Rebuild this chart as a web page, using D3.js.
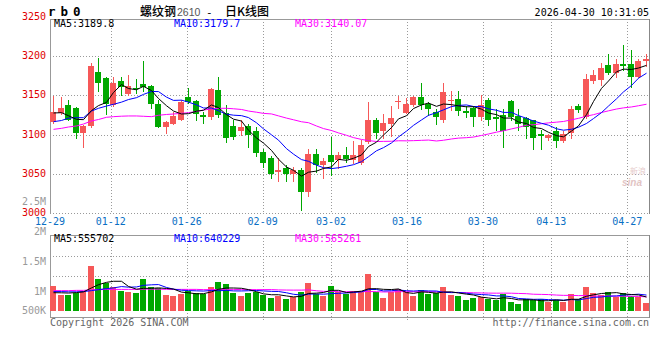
<!DOCTYPE html>
<html><head><meta charset="utf-8">
<script src="https://cdn.jsdelivr.net/npm/d3@7"></script>
<style>html,body{margin:0;padding:0;background:#fff;} svg{display:block;font-family:"DejaVu Sans Mono",monospace;}</style>
</head><body><svg id="c" width="660" height="360"></svg>
<script>
// ---------- data ----------
const dates = ["12-29","12-30","12-31","01-05","01-06","01-07","01-08","01-09","01-12","01-13",
"01-14","01-15","01-16","01-19","01-20","01-21","01-22","01-23","01-26","01-27",
"01-28","01-29","01-30","02-02","02-03","02-04","02-05","02-06","02-09","02-10",
"02-11","02-12","02-13","02-24","02-25","02-26","02-27","03-02","03-03","03-04",
"03-05","03-06","03-09","03-10","03-11","03-12","03-13","03-16","03-17","03-18",
"03-19","03-20","03-23","03-24","03-25","03-26","03-27","03-30","03-31","04-01",
"04-02","04-03","04-07","04-08","04-09","04-10","04-13","04-14","04-15","04-16",
"04-17","04-20","04-21","04-22","04-23","04-24","04-27","04-28","04-29","04-30"];
const open  = [3116,3128,3138,3134,3102,3111,3180,3172,3138,3168, 3152,3160,3165,3162,3139,3109,3114,3119,3148,3143,
 3125,3122,3157,3127,3111,3104,3111,3105,3078,3070, 3052,3057,3049,3055,3027,3075,3061,3074,3067,3074,
 3068,3064,3091,3119,3105,3114,3141,3128,3138,3148, 3139,3129,3119,3143,3146,3130,3134,3123,3144,3122,
 3125,3143,3124,3121,3118,3101,3095,3105,3092,3102, 3136,3123,3169,3170,3189,3179,3190,3190,3174,3194];
const high  = [3149,3148,3144,3135,3112,3192,3198,3173,3174,3173, 3176,3171,3194,3163,3144,3117,3129,3144,3160,3144,
 3129,3160,3174,3138,3118,3118,3113,3110,3082,3073, 3070,3061,3058,3057,3082,3082,3070,3097,3078,3084,
 3092,3093,3142,3121,3126,3136,3149,3147,3149,3166, 3142,3132,3166,3155,3155,3136,3136,3151,3147,3132,
 3132,3144,3132,3123,3119,3106,3101,3110,3104,3136, 3139,3178,3183,3191,3203,3196,3215,3208,3197,3203];
const low   = [3115,3126,3118,3095,3084,3109,3155,3126,3136,3151, 3151,3153,3155,3134,3109,3102,3113,3118,3140,3119,
 3115,3120,3123,3091,3094,3099,3084,3072,3059,3045, 3041,3040,3040,3003,3021,3052,3045,3048,3057,3065,
 3063,3062,3089,3095,3095,3098,3134,3127,3136,3132, 3125,3114,3116,3131,3125,3123,3111,3119,3112,3106,
 3084,3118,3106,3095,3081,3082,3093,3084,3091,3095, 3129,3121,3166,3163,3178,3174,3183,3161,3173,3188];
const close = [3129,3134,3119,3102,3111,3187,3166,3139,3166,3161, 3162,3158,3161,3139,3110,3116,3124,3142,3141,3126,
 3122,3158,3125,3096,3097,3110,3099,3076,3063,3050, 3054,3049,3055,3026,3075,3061,3066,3065,3074,3069,
 3074,3087,3119,3102,3115,3121,3143,3139,3148,3138, 3133,3122,3154,3144,3130,3127,3123,3138,3119,3120,
 3105,3123,3113,3109,3095,3098,3099,3092,3101,3132, 3131,3171,3176,3185,3179,3190,3188,3174,3194,3196];
const volume = [1008000,641000,641000,735000,816000,1824000,1294000,1118000,955000,816000,
 763000,735000,1294000,955000,914000,641000,612000,669000,816000,710000,
 669000,980000,1184000,1090000,710000,612000,710000,763000,641000,531000,
 612000,465000,571000,751000,1118000,682000,600000,1008000,751000,669000,
 804000,751000,1498000,776000,531000,763000,873000,751000,612000,845000,
 669000,710000,980000,641000,612000,437000,531000,547000,465000,437000,
 669000,367000,273000,478000,437000,478000,367000,437000,367000,682000,
 478000,980000,735000,641000,763000,571000,722000,600000,571000,327000];
// moving-average values before enough visible history exists
const ma5Head  = [3127.5,3127.9,3124,3119.4];
const ma10Head = [3116.4,3117.9,3121,3121.5,3121.5,3130,3133.5,3136.4,3138.6];
const ma30Head = [3106.6,3107.9,3109.6,3110.9,3113.4,3117.3,3119.2,3122,3122.8,3123.4,
 3123.7,3123.7,3123.3,3122.8,3124.6,3125.6,3126.2,3127.1,3127.9,3129.4,
 3131.3,3132.6,3133.5,3133.5,3132.9,3132,3130,3128.5,3127];
const vma5Head  = [735000,730000,720000,740000];
const vma10Head = [780000,780000,770000,770000,780000,820000,860000,900000,930000];
const vma30Head = [820000,820000,820000,830000,830000,850000,860000,870000,870000,870000,
 870000,870000,880000,880000,880000,870000,870000,870000,870000,870000,
 860000,860000,870000,870000,870000,860000,860000,860000,860000];
const tickLabels = ["12-29","01-12","01-26","02-09","03-02","03-16","03-30","04-13","04-27"];
const priceTicks = [3000,3050,3100,3150,3200,3250];
const volTicks = [2500000,2000000,1500000,1000000,500000];
const volTickLabels = ["2.5M","2M","1.5M","1M","500K"];

// ---------- helpers ----------
function movAvg(series, n, head){
  return series.map((_, i) => i < head.length ? head[i] : d3.mean(series.slice(i - n + 1, i + 1)));
}
const ma5 = movAvg(close,5,ma5Head), ma10 = movAvg(close,10,ma10Head), ma30 = movAvg(close,30,ma30Head);
const vma5 = movAvg(volume,5,vma5Head), vma10 = movAvg(volume,10,vma10Head), vma30 = movAvg(volume,30,vma30Head);

const RED = "#f65858", GREEN = "#00a800", GRID = "#9a9a9a", BORDER = "#999";
const L = 50, R = 649, mTop = 19, mBot = 213, vTop = 235, vBot = 317;

const svg = d3.select("#c");
const xBand = d3.scaleBand().domain(dates).range([49, 649]);
const xGrid = d3.scalePoint().domain(dates).range([50, 650]);
const y = d3.scaleLinear().domain([3000, 3250]).range([212.7, 17.2]);
const vy = d3.scaleLinear().domain([0, 1000000]).range([310.7, 286.2]);
const vLab = d3.scaleLinear().domain([0, 2500000]).range([351, 201]);
const bx = d => Math.round(xBand(d) + 1);
const cx = d => bx(d) + 3;

const defs = svg.append("defs");
defs.append("clipPath").attr("id","cm").append("rect").attr("x",L).attr("y",mTop).attr("width",R-L).attr("height",mBot-mTop);
defs.append("clipPath").attr("id","cv").append("rect").attr("x",L).attr("y",vTop).attr("width",R-L).attr("height",vBot-vTop);

// ---------- grid ----------
const g = svg.append("g");
priceTicks.filter(v => v > 3000 && v < 3250).forEach(v => {
  const yy = Math.round(y(v)) + 0.5;
  g.append("line").attr("x1",L).attr("x2",R).attr("y1",yy).attr("y2",yy)
   .attr("stroke",GRID).attr("stroke-dasharray","1,2");
});
[0.25, 0.5].forEach(f => {
  const yy = Math.round(vTop + (vBot - vTop) * f) + 0.5;
  g.append("line").attr("x1",L).attr("x2",R).attr("y1",yy).attr("y2",yy)
   .attr("stroke",GRID).attr("stroke-dasharray","1,2");
});
tickLabels.slice(1).forEach(d => {
  const xx = Math.round(xGrid(d)) + 0.5;
  g.append("line").attr("x1",xx).attr("x2",xx).attr("y1",mTop).attr("y2",mBot)
   .attr("stroke",GRID).attr("stroke-dasharray","1,2");
  g.append("line").attr("x1",xx).attr("x2",xx).attr("y1",vTop).attr("y2",vBot+4)
   .attr("stroke",GRID).attr("stroke-dasharray","1,2");
});

// borders
const bd = svg.append("g").attr("stroke",BORDER).attr("shape-rendering","crispEdges");
bd.append("line").attr("x1",L).attr("x2",R).attr("y1",mTop+0.5).attr("y2",mTop+0.5);
bd.append("line").attr("x1",L).attr("x2",R).attr("y1",mBot+0.5).attr("y2",mBot+0.5).attr("stroke-dasharray","1,2");
bd.append("line").attr("x1",L+0.5).attr("x2",L+0.5).attr("y1",mTop).attr("y2",mBot+1);
bd.append("line").attr("x1",R+0.5).attr("x2",R+0.5).attr("y1",mTop).attr("y2",mBot+1).attr("stroke","#888");
bd.append("line").attr("x1",L).attr("x2",R).attr("y1",vTop+0.5).attr("y2",vTop+0.5);
bd.append("line").attr("x1",L).attr("x2",R+1).attr("y1",vBot+0.5).attr("y2",vBot+0.5);
bd.append("line").attr("x1",L+0.5).attr("x2",L+0.5).attr("y1",vTop).attr("y2",vBot+1);
bd.append("line").attr("x1",R+0.5).attr("x2",R+0.5).attr("y1",vTop).attr("y2",vBot+1).attr("stroke","#888");

// watermark logo
svg.append("text").attr("x",622).attr("y",186).attr("font-family","Liberation Sans, sans-serif")
  .attr("font-style","italic").attr("font-weight","bold").attr("font-size",10).attr("fill","#e2c4c4").text("sina");
svg.append("text").attr("x",630).attr("y",174).attr("font-family","Noto Sans CJK SC").attr("font-size",8).attr("fill","#e6cccc").text("新浪");

// ---------- candles ----------
const cg = svg.append("g").attr("clip-path","url(#cm)").attr("shape-rendering","crispEdges");
dates.forEach((d, i) => {
  const up = close[i] >= open[i];
  const col = up ? RED : GREEN;
  const x0 = bx(d);
  cg.append("line").attr("x1",x0+3.5).attr("x2",x0+3.5)
    .attr("y1",Math.round(y(high[i]))).attr("y2",Math.round(y(low[i]))+1).attr("stroke",col);
  const yt = Math.round(y(Math.max(open[i],close[i])));
  const yb = Math.round(y(Math.min(open[i],close[i])));
  cg.append("rect").attr("x",x0).attr("width",6).attr("y",yt).attr("height",Math.max(1,yb-yt)).attr("fill",col);
});

// MA lines
const lineP = arr => d3.line().x((v,i)=>cx(dates[i])+0.5).y(v=>y(v))(arr);
const mg = svg.append("g").attr("clip-path","url(#cm)").attr("fill","none").attr("stroke-width",1);
mg.append("path").attr("d",lineP(ma30)).attr("stroke","#ff00ff");
mg.append("path").attr("d",lineP(ma10)).attr("stroke","#0000ff");
mg.append("path").attr("d",lineP(ma5)).attr("stroke","#000");

// ---------- volume ----------
const vg = svg.append("g").attr("clip-path","url(#cv)").attr("shape-rendering","crispEdges");
dates.forEach((d, i) => {
  const col = close[i] >= open[i] ? RED : GREEN;
  const yt = Math.round(vy(volume[i]));
  vg.append("rect").attr("x",bx(d)).attr("width",6).attr("y",yt).attr("height",Math.round(vy(0))-yt).attr("fill",col);
});
const vLine = arr => d3.line().x((v,i)=>cx(dates[i])+0.5).y(v=>vy(v))(arr);
const vmg = svg.append("g").attr("clip-path","url(#cv)").attr("fill","none").attr("stroke-width",1);
vmg.append("path").attr("d",vLine(vma30)).attr("stroke","#ff00ff");
vmg.append("path").attr("d",vLine(vma10)).attr("stroke","#0000ff");
vmg.append("path").attr("d",vLine(vma5)).attr("stroke","#000");

// ---------- texts ----------
const t = (x,yy,s,opt={}) => {
  const e = svg.append("text").attr("x",x).attr("y",yy).text(s).attr("font-size",opt.size||10)
    .attr("fill",opt.fill||"#000");
  if (opt.anchor) e.attr("text-anchor",opt.anchor);
  if (opt.family) e.attr("font-family",opt.family);
  if (opt.weight) e.attr("font-weight",opt.weight);
  if (opt.ls) e.attr("letter-spacing",opt.ls);
  return e;
};
priceTicks.forEach(v => t(46, y(v)+3, String(v), {anchor:"end", fill:"#e00000"}));
volTicks.forEach((v,i) => t(46, Math.min(vLab(v), 310.7)+3.5, volTickLabels[i], {anchor:"end", fill:"#9a9a9a"}));
tickLabels.forEach(d => t(xGrid(d), 225, d, {anchor:"middle", fill:"#0a6fc4"}));

t(48, 16, "r b 0", {size:12.5, weight:"bold", family:"DejaVu Sans Mono, monospace", ls:"-1.3"});
t(140, 15.5, "螺纹钢", {size:12, family:"Noto Sans CJK SC", weight:"500"});
t(177, 15.5, "2610", {size:10.5, fill:"#555", family:"Liberation Sans, sans-serif"});
t(206, 15.5, "-", {size:11});
t(225, 15.5, "日K线图", {size:12, family:"Noto Sans CJK SC", weight:"500"});
t(649, 15.5, "2026-04-30 10:31:05", {anchor:"end"});

t(54, 27.3, "MA5:3189.8");
t(174, 27.3, "MA10:3179.7", {fill:"#0000ff"});
t(295, 27.3, "MA30:3140.07", {fill:"#ff00ff"});
t(54, 242.3, "MA5:555702");
t(174, 242.3, "MA10:640229", {fill:"#0000ff"});
t(295, 242.3, "MA30:565261", {fill:"#ff00ff"});

t(50, 326.3, "Copyright 2026 SINA.COM", {fill:"#666"});
t(649, 326.3, "http://finance.sina.com.cn", {anchor:"end", fill:"#666"});
</script></body></html>
